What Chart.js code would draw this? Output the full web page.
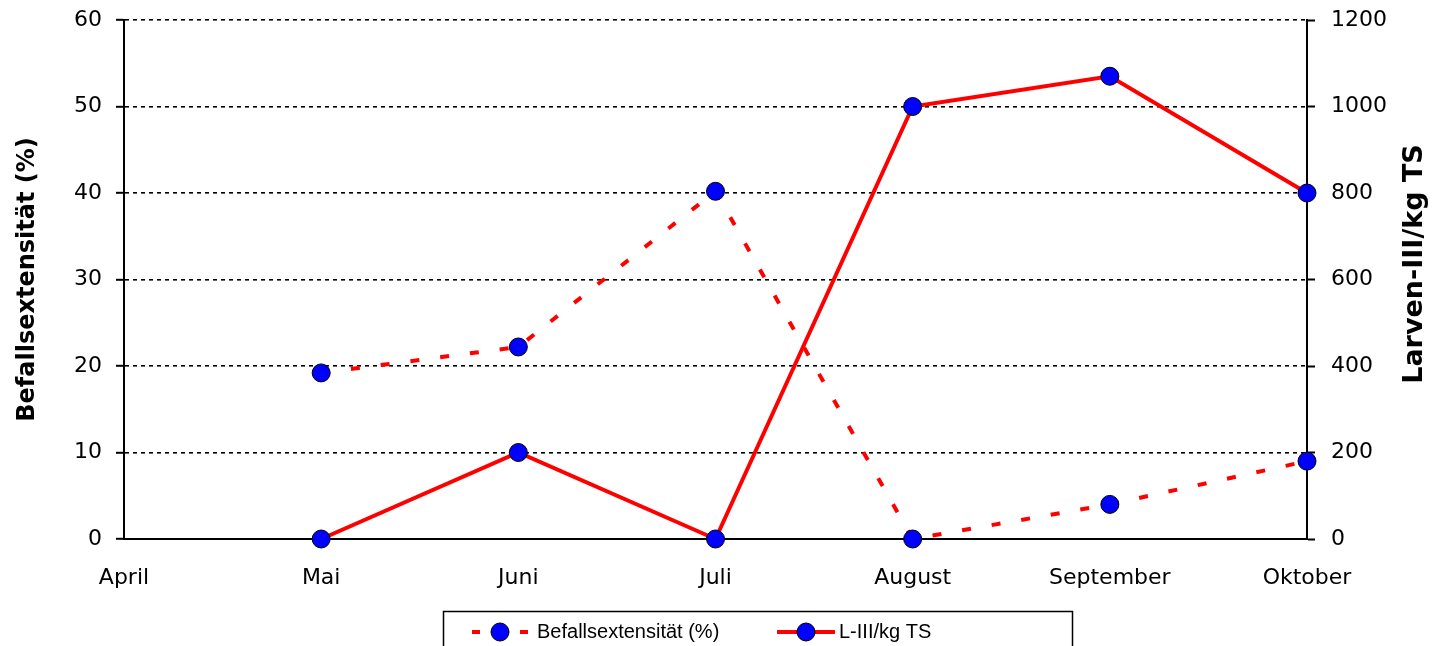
<!DOCTYPE html>
<html>
<head>
<meta charset="utf-8">
<script src="https://cdn.jsdelivr.net/npm/chart.js@4"></script>
<style>
  html, body { margin: 0; padding: 0; background: #fff; }
  #wrap { width: 1441px; height: 646px; }
</style>
</head>
<body>
<div id="wrap"><canvas id="myChart" width="1441" height="646"></canvas></div>
<script>
// values
var months = ['April', 'Mai', 'Juni', 'Juli', 'August', 'September', 'Oktober'];
var befall = [null, 19.2, 22.2, 40.2, 0, 4, 9];        // Befallsextensität (%), left axis
var larven = [null, 0, 200, 0, 1000, 1070, 800];       // L-III/kg TS, right axis
var leftTicks = [0, 10, 20, 30, 40, 50, 60];
var rightTicks = [0, 200, 400, 600, 800, 1000, 1200];
var rightTitle = 'Larven-III/kg TS';

var FONT = '"DejaVu Sans", sans-serif';
var LFONT = '"Liberation Sans", Arial, sans-serif';
Chart.defaults.font.family = FONT;
Chart.defaults.color = '#000';

// legend drawn by hand: box with line + marker samples
var boxLegend = {
  id: 'boxLegend',
  afterDraw: function(chart) {
    var ctx = chart.ctx;
    var ds = chart.data.datasets;
    ctx.save();
    ctx.strokeStyle = '#000';
    ctx.lineWidth = 1.5;
    ctx.strokeRect(443.5, 611.5, 629, 50);
    var items = [{x: 472, w: 56, text: 537, dash: [8, 40]}, {x: 777, w: 58, text: 839, dash: []}];
    var y = 632;
    for (var i = 0; i < ds.length; i++) {
      var d = ds[i], it = items[i];
      ctx.strokeStyle = d.borderColor;
      ctx.lineWidth = d.borderWidth;
      ctx.setLineDash(it.dash);
      ctx.beginPath();
      ctx.moveTo(it.x, y);
      ctx.lineTo(it.x + it.w, y);
      ctx.stroke();
      ctx.setLineDash([]);
      ctx.beginPath();
      ctx.arc(it.x + it.w / 2, y, d.pointRadius, 0, Math.PI * 2);
      ctx.fillStyle = d.pointBackgroundColor;
      ctx.fill();
      ctx.lineWidth = 1;
      ctx.strokeStyle = d.pointBorderColor;
      ctx.stroke();
      ctx.fillStyle = '#000';
      ctx.font = '20px ' + LFONT;
      ctx.textBaseline = 'middle';
      ctx.fillText(d.label, it.text, y);
    }
    // right axis title, reads bottom to top like the left one
    ctx.translate(1415, 264);
    ctx.rotate(-Math.PI / 2);
    ctx.font = 'bold 27px ' + FONT;
    ctx.textAlign = 'center';
    ctx.textBaseline = 'middle';
    ctx.fillText(rightTitle, 0, 0);
    ctx.restore();
  }
};

const ctx = document.getElementById('myChart');
new Chart(ctx, {
  type: 'line',
  data: {
    labels: months,
    datasets: [{
      label: 'Befallsextensität (%)',
      data: befall,
      yAxisID: 'y',
      borderColor: '#ff0000',
      borderWidth: 4,
      borderDash: [9, 21],
      pointRadius: 9,
      pointBackgroundColor: '#0000ff',
      pointBorderColor: '#000',
      pointBorderWidth: 1,
      tension: 0,
      clip: false
    }, {
      label: 'L-III/kg TS',
      data: larven,
      yAxisID: 'y1',
      borderColor: '#ff0000',
      borderWidth: 4,
      pointRadius: 9,
      pointBackgroundColor: '#0000ff',
      pointBorderColor: '#000',
      pointBorderWidth: 1,
      tension: 0,
      clip: false
    }]
  },
  options: {
    responsive: false,
    animation: false,
    layout: { padding: { top: 20, bottom: 0, left: 0, right: 0 } },
    plugins: { legend: { display: false }, tooltip: { enabled: false } },
    scales: {
      x: {
        offset: false,
        grid: { display: false, drawTicks: false },
        border: { color: '#000', width: 2 },
        ticks: { font: { size: 22 }, padding: 26, maxRotation: 0 },
        afterFit: function(s) { s.height = 107; s.paddingLeft = 0; s.paddingRight = 0; }
      },
      y: {
        position: 'left',
        min: 0, max: 60,
        afterBuildTicks: function(s) { s.ticks = leftTicks.map(function(v) { return {value: v}; }); },
        grid: { color: '#000', lineWidth: 1.6, tickLength: 8, tickColor: '#000', tickWidth: 2, tickBorderDash: [] },
        border: { color: '#000', width: 2, dash: [4, 4] },
        ticks: { font: { size: 22 }, padding: 14 },
        title: { display: true, text: 'Befallsextensität (%)', font: { size: 24, weight: 'bold' }, padding: { top: 13, bottom: 0 } },
        afterFit: function(s) { s.width = 124; s.paddingTop = 0; s.paddingBottom = 0; }
      },
      y1: {
        position: 'right',
        min: 0, max: 1200,
        afterBuildTicks: function(s) { s.ticks = rightTicks.map(function(v) { return {value: v}; }); },
        grid: { drawOnChartArea: false, tickLength: 8, tickColor: '#000', tickWidth: 2 },
        border: { color: '#000', width: 2 },
        ticks: { font: { size: 22 }, padding: 16, callback: function(v) { return String(v); } },
        afterFit: function(s) { s.width = 134; s.paddingTop = 0; s.paddingBottom = 0; }
      }
    }
  },
  plugins: [boxLegend]
});
</script>
</body>
</html>
